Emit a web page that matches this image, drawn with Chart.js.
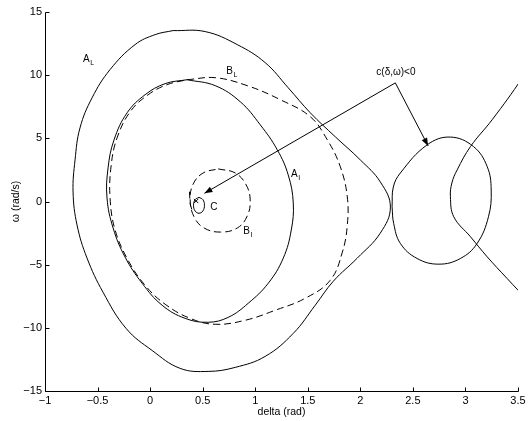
<!DOCTYPE html>
<html>
<head>
<meta charset="utf-8">
<script src="https://cdn.jsdelivr.net/npm/chart.js@4.4.0/dist/chart.umd.min.js"></script>
<style>
  html, body { margin: 0; padding: 0; background: #fff; }
  canvas { display: block; }
</style>
</head>
<body>
<canvas id="c" width="531" height="421"></canvas>
<script>
// Axis ticks
const xTicks = [-1, -0.5, 0, 0.5, 1, 1.5, 2, 2.5, 3, 3.5];
const yTicks = [-15, -10, -5, 0, 5, 10, 15];

// Outer level curve A_L
const aLDelta = [0.219, 0.524, 0.829, 1.095, 1.314, 1.524, 1.762, 2.0, 2.19, 2.286, 2.19, 1.971, 1.743, 1.571, 1.362, 1.095, 0.81, 0.552, 0.286, 0.019, -0.229, -0.448, -0.6, -0.695, -0.733, -0.714, -0.667, -0.552, -0.381, -0.143, 0.048];
const aLOmega = [13.53, 13.45, 12.42, 10.99, 9.0, 7.02, 5.12, 3.29, 1.55, -0.44, -2.5, -4.48, -6.31, -8.21, -10.44, -12.26, -13.13, -13.45, -13.21, -11.79, -10.04, -7.18, -4.48, -1.87, 0.75, 3.29, 5.83, 8.21, 10.44, 12.42, 13.21];

// Inner level curve A_I
const aIDelta = [0.352, 0.619, 0.857, 1.048, 1.21, 1.314, 1.362, 1.343, 1.267, 1.124, 0.933, 0.743, 0.552, 0.333, 0.114, -0.076, -0.238, -0.352, -0.41, -0.4, -0.343, -0.219, -0.048, 0.143];
const aIOmega = [9.64, 9.17, 7.9, 6.07, 4.09, 2.1, -0.12, -2.26, -4.48, -6.47, -8.06, -9.17, -9.56, -9.25, -8.21, -6.47, -4.4, -2.1, 0.28, 2.66, 4.88, 7.02, 8.45, 9.33];

// Dashed curve B_L
const bLDelta = [0.352, 0.619, 0.924, 1.238, 1.524, 1.686, 1.81, 1.876, 1.876, 1.829, 1.714, 1.476, 1.19, 0.905, 0.619, 0.381, 0.143, -0.048, -0.21, -0.333, -0.381, -0.371, -0.314, -0.19, -0.019, 0.162];
const bLOmega = [9.64, 9.8, 9.17, 8.06, 6.71, 4.88, 2.74, 0.36, -1.87, -4.01, -6.23, -7.66, -8.61, -9.4, -9.72, -9.25, -8.13, -6.63, -4.64, -2.26, 0.28, 2.82, 5.04, 7.1, 8.45, 9.25];

// Dashed curve B_I
const bIDelta = [0.648, 0.81, 0.914, 0.952, 0.924, 0.829, 0.667, 0.514, 0.419, 0.381, 0.41, 0.505];
const bIOmega = [2.58, 2.26, 1.31, 0.12, -1.15, -2.1, -2.42, -2.1, -1.23, 0.12, 1.39, 2.26];

// Small curve C around the equilibrium
const cDelta = [0.465, 0.502, 0.517, 0.502, 0.465, 0.428, 0.413, 0.428];
const cOmega = [0.33, 0.15, -0.3, -0.75, -0.93, -0.75, -0.3, 0.15];
const cArcDelta = [0.374, 0.381, 0.403];
const cArcOmega = [0.78, -0.2, -0.81];

// Region c(delta, omega) < 0 : closed loop and open branch
const loopDelta = [2.302, 2.314, 2.381, 2.635, 2.857, 3.076, 3.207, 3.245, 3.219, 3.111, 2.952, 2.746, 2.54, 2.381, 2.317];
const loopOmega = [-0.41, 1.15, 2.26, 4.48, 5.1, 4.35, 2.76, 0.91, -1.21, -3.32, -4.51, -4.96, -4.51, -3.32, -1.73];
const branchDelta = [3.6, 3.54, 3.254, 3.048, 2.921, 2.871, 2.857, 2.889, 3.048, 3.207, 3.397, 3.6];
const branchOmega = [10.8, 9.78, 6.47, 4.35, 2.5, 1.47, 0.38, -1.21, -2.79, -4.38, -6.1, -7.9];

// Equilibrium point
const eqDelta = [0.438];
const eqOmega = [0.04];

// Pointer lines: first tip, apex, second tip
const pointerDelta = [0.517, 2.333, 2.645];
const pointerOmega = [0.65, 9.39, 4.4];

// Curve names and the region note
const curveLabels = [
  { text: 'A', sub: 'L', x: -0.638, y: 11.07 },
  { text: 'B', sub: 'L', x: 0.724, y: 10.12 },
  { text: 'A', sub: 'I', x: 1.34, y: 1.94 },
  { text: 'B', sub: 'I', x: 0.886, y: -2.58 },
  { text: 'C', sub: '', x: 0.571, y: -0.67 },
  { text: 'c(\u03b4,\u03c9)<0', sub: '', x: 2.152, y: 10.04 }
];

const FONT = '"Liberation Sans", Arial, Helvetica, sans-serif';

function toPoints(xs, ys, close) {
  const p = xs.map((x, i) => ({ x: x, y: ys[i] }));
  if (close) p.push({ x: xs[0], y: ys[0] });
  return p;
}

function curve(xs, ys, close, dash) {
  return {
    data: toPoints(xs, ys, close),
    showLine: true,
    borderColor: '#000',
    borderWidth: 1,
    borderDash: dash || [],
    pointRadius: 0,
    tension: 0.4,
    fill: false
  };
}

const minus = v => String(v).replace('-', '\u2212');

// Axis lines with inward tick marks, arrow heads and text labels
const decorations = {
  id: 'decorations',
  afterDatasetsDraw(chart) {
    const { ctx } = chart;
    const xs = chart.scales.x, ys = chart.scales.y;
    ctx.save();
    ctx.strokeStyle = '#000';
    ctx.fillStyle = '#000';
    ctx.lineWidth = 1;

    // arrow heads at both pointer tips
    const apex = { x: xs.getPixelForValue(pointerDelta[1]), y: ys.getPixelForValue(pointerOmega[1]) };
    [0, 2].forEach(i => {
      const tx = xs.getPixelForValue(pointerDelta[i]);
      const ty = ys.getPixelForValue(pointerOmega[i]);
      const ang = Math.atan2(ty - apex.y, tx - apex.x);
      const len = 8, half = 3;
      const bx = tx - len * Math.cos(ang), by = ty - len * Math.sin(ang);
      ctx.beginPath();
      ctx.moveTo(tx, ty);
      ctx.lineTo(bx + half * Math.sin(ang), by - half * Math.cos(ang));
      ctx.lineTo(bx - half * Math.sin(ang), by + half * Math.cos(ang));
      ctx.closePath();
      ctx.fill();
    });

    // labels
    ctx.textBaseline = 'alphabetic';
    ctx.textAlign = 'left';
    curveLabels.forEach(l => {
      const px = xs.getPixelForValue(l.x), py = ys.getPixelForValue(l.y);
      ctx.font = '10px ' + FONT;
      ctx.fillText(l.text, px, py);
      if (l.sub) {
        const w = ctx.measureText(l.text).width;
        ctx.font = '7px ' + FONT;
        ctx.fillText(l.sub, px + w + 0.5, py + 3);
      }
    });

    // left and bottom axis lines
    const x0 = Math.round(xs.getPixelForValue(xTicks[0])) + 0.5;
    const x1 = Math.round(xs.getPixelForValue(xTicks[xTicks.length - 1])) + 0.5;
    const y0 = Math.round(ys.getPixelForValue(yTicks[0])) + 0.5;
    const y1 = Math.round(ys.getPixelForValue(yTicks[yTicks.length - 1])) + 0.5;
    ctx.beginPath();
    ctx.moveTo(x0, y1);
    ctx.lineTo(x0, y0);
    ctx.lineTo(x1, y0);

    // tick marks pointing into the plot
    xs.ticks.forEach(t => {
      const p = Math.round(xs.getPixelForValue(t.value)) + 0.5;
      ctx.moveTo(p, y0);
      ctx.lineTo(p, y0 - 4);
    });
    ys.ticks.forEach(t => {
      const p = Math.round(ys.getPixelForValue(t.value)) + 0.5;
      ctx.moveTo(x0, p);
      ctx.lineTo(x0 + 4, p);
    });
    ctx.stroke();
    ctx.restore();
  }
};

new Chart(document.getElementById('c'), {
  type: 'scatter',
  data: {
    datasets: [
      curve(aLDelta, aLOmega, true),
      curve(aIDelta, aIOmega, true),
      curve(bLDelta, bLOmega, true, [7, 4]),
      curve(bIDelta, bIOmega, true, [7, 4]),
      curve(cDelta, cOmega, true),
      Object.assign(curve(cArcDelta, cArcOmega, false, [7, 4]), { tension: 0 }),
      curve(loopDelta, loopOmega, true),
      curve(branchDelta, branchOmega, false),
      Object.assign(curve(pointerDelta, pointerOmega, false), { tension: 0 }),
      {
        data: toPoints(eqDelta, eqOmega, false),
        showLine: false,
        pointStyle: 'crossRot',
        pointRadius: 3,
        borderColor: '#000',
        borderWidth: 1
      }
    ]
  },
  options: {
    responsive: false,
    devicePixelRatio: 1,
    animation: false,
    layout: { padding: { left: 0, top: 12, right: 13, bottom: 0 } },
    plugins: { legend: { display: false }, tooltip: { enabled: false } },
    scales: {
      x: {
        type: 'linear',
        min: -1,
        max: 3.5,
        afterBuildTicks: s => { s.ticks = xTicks.map(v => ({ value: v })); },
        afterFit: s => { s.height = 30; },
        grid: { display: false, drawTicks: false },
        border: { display: false },
        ticks: { color: '#000', padding: 3, maxRotation: 0, autoSkip: false, font: { family: FONT, size: 11 }, callback: minus },
        title: { display: true, text: 'delta (rad)', color: '#000', font: { family: FONT, size: 10.5 }, padding: { top: 0, bottom: 2.5 } }
      },
      y: {
        type: 'linear',
        min: -15,
        max: 15,
        afterBuildTicks: s => { s.ticks = yTicks.map(v => ({ value: v })); },
        afterFit: s => { s.width = 45; },
        grid: { display: false, drawTicks: false },
        border: { display: false },
        ticks: { color: '#000', padding: 3, autoSkip: false, font: { family: FONT, size: 11 }, callback: minus },
        title: { display: true, text: '\u03c9 (rad/s)', color: '#000', font: { family: FONT, size: 10.5 }, padding: { top: 10, bottom: 0 } }
      }
    }
  },
  plugins: [decorations]
});
</script>
</body>
</html>
